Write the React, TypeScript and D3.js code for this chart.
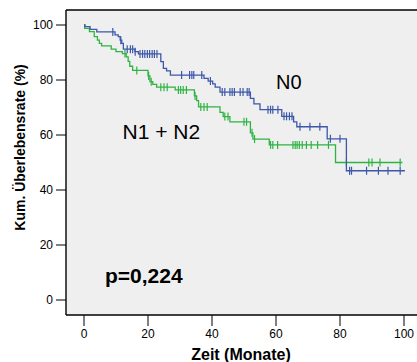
import React, { useEffect, useRef } from 'react';
import * as d3 from 'd3';

// Kaplan-Meier steps: time (months) at which survival drops, value after the drop
const n0Times = [0, 0.3, 1.9, 4, 9.7, 10.7, 11.3, 11.8, 12.3, 15.9, 17, 24, 24.8, 25.8, 27, 37.5, 38.8, 40.2, 41, 42.5, 52, 53.1, 55, 61.8, 65.5, 66.5, 76, 82, 100.3];
const n0Surv = [100, 99.4, 98.4, 97.5, 96.4, 95.8, 94.5, 93.3, 91.2, 90.3, 89.5, 86.7, 84.2, 83.3, 81.8, 80.6, 79.6, 78.6, 77.4, 75.6, 73.3, 71.3, 69.2, 66.8, 64.8, 63, 58.6, 47, 47];
const n0Censored = [9, 11.5, 13.5, 14.5, 15.2, 16, 17.5, 18.3, 19, 19.8, 20.5, 21.3, 22, 22.8, 30.5, 33, 33.7, 34.3, 36.8, 39.5, 43.2, 44, 45.6, 46.3, 47, 48.8, 49.7, 51, 51.6, 57.5, 58.3, 59, 60.6, 62.5, 63.3, 64.2, 65, 67.5, 70.6, 73.7, 77, 80, 83, 83.6, 88.3, 92, 95, 98.8];

const n12Times = [0, 0.2, 1.7, 3.2, 4.2, 4.8, 5.5, 8.5, 10, 12, 13.2, 13.8, 14.3, 15.2, 20, 20.6, 21.5, 22.7, 28.5, 34.5, 35.2, 35.8, 42.5, 43.5, 45.6, 52, 52.8, 57.9, 78.6, 99.5];
const n12Surv = [100, 98.8, 97.6, 95.8, 94.5, 93.3, 92.4, 91.2, 90.3, 89.6, 88.4, 86.8, 85, 83.5, 81.5, 79.4, 78.4, 77.4, 76.4, 74.2, 72.5, 70.2, 68.2, 66.7, 64.8, 60.8, 58.5, 56.4, 50, 50];
const n12Censored = [12.8, 16.5, 20.2, 21, 24, 25, 26, 29.5, 30.2, 31, 32, 34.7, 36.5, 37.5, 38.5, 44, 45, 50, 50.8, 52.5, 53.3, 58.3, 59, 60.5, 65.3, 66, 66.6, 67.3, 68.2, 69.5, 71, 73, 76.4, 82, 89, 90, 92.5, 98.8];

const xTicks = [0, 20, 40, 60, 80, 100];
const yTicks = [0, 20, 40, 60, 80, 100];

const BLUE = '#3d58aa';
const GREEN = '#2fb443';
const FONT = '"Liberation Sans", Arial, Helvetica, sans-serif';

const App: React.FC = () => {
  const svgRef = useRef<SVGSVGElement>(null);

  useEffect(() => {
    if (!svgRef.current) return;
    const svg = d3.select(svgRef.current);
    svg.selectAll('*').remove();

    const width = 417;
    const height = 362;
    const frame = { left: 66, top: 10, bottom: 315, right: 417 };

    const x = d3.scaleLinear().domain([0, 100]).range([84, 404]);
    const y = d3.scaleLinear().domain([0, 100]).range([300, 25]);

    svg.attr('width', width).attr('height', height);

    // plot background
    svg.append('rect')
      .attr('x', frame.left)
      .attr('y', frame.top)
      .attr('width', frame.right - frame.left)
      .attr('height', frame.bottom - frame.top)
      .attr('fill', '#efefef');

    // frame lines (no right border)
    const frameLines = [
      [frame.left, frame.top, frame.right, frame.top],
      [frame.left, frame.top, frame.left, frame.bottom],
      [frame.left, frame.bottom, frame.right, frame.bottom]
    ];
    svg.selectAll('.frame')
      .data(frameLines)
      .enter()
      .append('line')
      .attr('x1', d => d[0]).attr('y1', d => d[1])
      .attr('x2', d => d[2]).attr('y2', d => d[3])
      .attr('stroke', '#000')
      .attr('stroke-width', 1.4);

    // y axis ticks
    const yAxis = svg.append('g');
    yAxis.selectAll('line')
      .data(yTicks)
      .enter()
      .append('line')
      .attr('x1', 56).attr('x2', frame.left)
      .attr('y1', d => y(d)).attr('y2', d => y(d))
      .attr('stroke', '#000').attr('stroke-width', 1);
    yAxis.selectAll('text')
      .data(yTicks)
      .enter()
      .append('text')
      .attr('x', 53)
      .attr('y', d => y(d))
      .attr('dy', '0.35em')
      .attr('text-anchor', 'end')
      .style('font-family', FONT)
      .style('font-size', '12px')
      .text(d => d);

    // x axis ticks
    const xAxis = svg.append('g');
    xAxis.selectAll('line')
      .data(xTicks)
      .enter()
      .append('line')
      .attr('x1', d => x(d)).attr('x2', d => x(d))
      .attr('y1', frame.bottom).attr('y2', 326)
      .attr('stroke', '#000').attr('stroke-width', 1);
    xAxis.selectAll('text')
      .data(xTicks)
      .enter()
      .append('text')
      .attr('x', d => x(d))
      .attr('y', 338)
      .attr('text-anchor', 'middle')
      .style('font-family', FONT)
      .style('font-size', '12px')
      .text(d => d);

    // axis titles
    svg.append('text')
      .attr('x', 241)
      .attr('y', 360)
      .attr('text-anchor', 'middle')
      .style('font-family', FONT)
      .style('font-size', '16px')
      .style('font-weight', 'bold')
      .text('Zeit (Monate)');

    svg.append('text')
      .attr('transform', 'translate(25, 147.5) rotate(-90)')
      .attr('text-anchor', 'middle')
      .style('font-family', FONT)
      .style('font-size', '14px')
      .style('font-weight', 'bold')
      .text('Kum. Überlebensrate (%)');

    // survival curves
    const series = [
      { times: n12Times, surv: n12Surv, censored: n12Censored, color: GREEN },
      { times: n0Times, surv: n0Surv, censored: n0Censored, color: BLUE }
    ];

    const line = d3.line<[number, number]>()
      .x(d => x(d[0]))
      .y(d => y(d[1]))
      .curve(d3.curveStepAfter);

    series.forEach(s => {
      const pts: [number, number][] = s.times.map((t, i) => [t, s.surv[i]]);
      svg.append('path')
        .attr('d', line(pts))
        .attr('fill', 'none')
        .attr('stroke', s.color)
        .attr('stroke-width', 1.3);

      const survAt = (t: number) => {
        const i = d3.bisectRight(s.times, t) - 1;
        return s.surv[Math.max(0, i)];
      };
      svg.selectAll(null)
        .data(s.censored)
        .enter()
        .append('line')
        .attr('x1', d => x(d)).attr('x2', d => x(d))
        .attr('y1', d => y(survAt(d)) - 4)
        .attr('y2', d => y(survAt(d)) + 4)
        .attr('stroke', s.color)
        .attr('stroke-width', 1.2);
    });

    // labels
    svg.append('text')
      .attr('x', 276).attr('y', 89)
      .style('font-family', FONT)
      .style('font-size', '20px')
      .text('N0');

    svg.append('text')
      .attr('x', 122.5).attr('y', 139)
      .style('font-family', FONT)
      .style('font-size', '21px')
      .text('N1 + N2');

    svg.append('text')
      .attr('x', 105).attr('y', 283)
      .style('font-family', FONT)
      .style('font-size', '21px')
      .style('font-weight', 'bold')
      .text('p=0,224');
  }, []);

  return (
    <div style={{ position: 'absolute', left: 0, top: 0 }}>
      <svg ref={svgRef} style={{ display: 'block' }} />
    </div>
  );
};

export default App;
